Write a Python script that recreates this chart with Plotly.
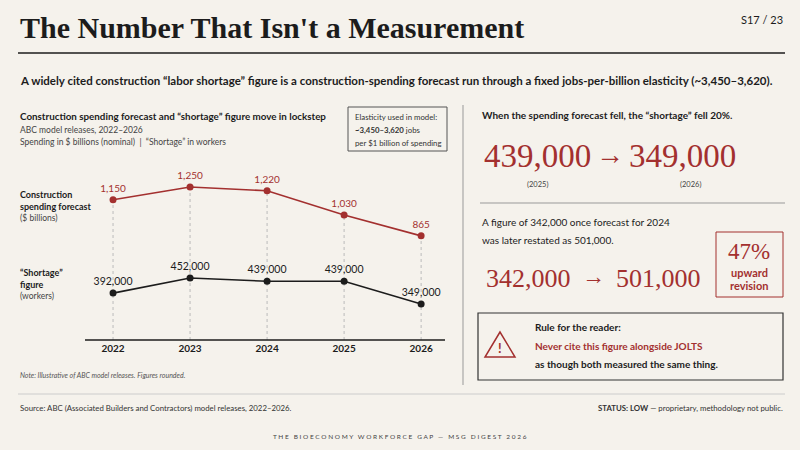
import plotly.graph_objects as go

years = [2022, 2023, 2024, 2025, 2026]
spending = [1150, 1250, 1220, 1030, 865]
spending_labels = ["1,150", "1,250", "1,220", "1,030", "865"]
shortage = [392000, 452000, 439000, 439000, 349000]
shortage_labels = ["392,000", "452,000", "439,000", "439,000", "349,000"]

RED = "#a3302f"
INK = "#1c1c1c"
BG = "#f5f2ec"
SERIF = "Liberation Serif"
SANS = "Lato"
W, H = 800, 450

def py(p):
    return 1 - p / H

def px(p):
    return p / W

fig = go.Figure()
fig.add_trace(go.Scatter(x=years, y=spending, mode="lines+markers+text", text=spending_labels,
                         textposition="top center", textfont=dict(color=RED, size=10, family=SANS),
                         line=dict(color=RED, width=1.6), marker=dict(color=RED, size=7),
                         yaxis="y", cliponaxis=False, showlegend=False))
fig.add_trace(go.Scatter(x=years, y=shortage, mode="lines+markers+text", text=shortage_labels,
                         textposition="top center", textfont=dict(color=INK, size=10.5, family=SANS),
                         line=dict(color=INK, width=1.6), marker=dict(color=INK, size=7),
                         yaxis="y2", cliponaxis=False, showlegend=False))

shapes = []
for yr, v in zip(years, spending):
    shapes.append(dict(type="line", xref="x", yref="paper", x0=yr, x1=yr, y0=py(340), y1=py(187 + (1250 - v) * 0.127),
                       line=dict(color="#bbbbbb", width=1, dash="dot"), layer="below"))
def hline(y, x0, x1, color=INK, w=1):
    shapes.append(dict(type="line", xref="paper", yref="paper", x0=px(x0), x1=px(x1), y0=py(y), y1=py(y),
                       line=dict(color=color, width=w)))
def rect(x0, y0, x1, y1, color, w=1):
    shapes.append(dict(type="rect", xref="paper", yref="paper", x0=px(x0), x1=px(x1), y0=py(y0), y1=py(y1),
                       line=dict(color=color, width=w)))
hline(340, 85, 445, INK, 1.5)
hline(53, 18, 785, INK, 1.5)
hline(203, 480, 785, "#999999", 1)
hline(394, 18, 785, "#cccccc", 1)
shapes.append(dict(type="line", xref="paper", yref="paper", x0=px(463), x1=px(463), y0=py(105), y1=py(385),
                   line=dict(color="#999999", width=1)))
rect(348, 107, 447, 151, "#555555", 1)
rect(716, 232, 783, 297, RED, 1)
rect(478, 313, 783, 380, "#333333", 1.2)
shapes.append(dict(type="path", xref="paper", yref="paper",
                   path=f"M {px(500)} {py(332)} L {px(485)} {py(357)} L {px(515)} {py(357)} Z",
                   line=dict(color=RED, width=1.5)))

anns = []
def t(x, y, s, size=10, color=INK, family=SANS, xa="left", bold=False, italic=False):
    if bold: s = f"<b>{s}</b>"
    if italic: s = f"<i>{s}</i>"
    anns.append(dict(x=px(x), y=py(y), xref="paper", yref="paper", text=s, showarrow=False,
                     xanchor=xa, yanchor="middle", font=dict(size=size, color=color, family=family), align=xa))

t(18, 27, "The Number That Isn't a Measurement", 30, INK, SERIF, bold=True)
t(785, 19, "S17 / 23", 11, INK, xa="right")
t(18, 80, "A widely cited construction “labor shortage” figure is a construction-spending forecast run through a fixed jobs-per-billion elasticity (~3,450–3,620).", 11.5, INK, bold=True)
t(18, 116, "Construction spending forecast and “shortage” figure move in lockstep", 9.8, INK, bold=True)
t(18, 130, "ABC model releases, 2022–2026", 8.5, "#444")
t(18, 142, "Spending in $ billions (nominal)  |  “Shortage” in workers", 8.5, "#444")
t(353, 117, "Elasticity used in model:", 7.8, "#333")
t(353, 130, "<b>~3,450–3,620</b> jobs", 7.8, "#333")
t(353, 143, "per $1 billion of spending", 7.8, "#333")
t(18, 194, "Construction", 9, INK, bold=True)
t(18, 206, "spending forecast", 9, INK, bold=True)
t(18, 218, "($ billions)", 8.5, "#444")
t(18, 272, "“Shortage”", 9, INK, bold=True)
t(18, 284, "figure", 9, INK, bold=True)
t(18, 296, "(workers)", 8.5, "#444")
t(18, 375, "Note: Illustrative of ABC model releases. Figures rounded.", 7, "#555", italic=True)

t(480, 115, "When the spending forecast fell, the “shortage” fell 20%.", 10, INK, bold=True)
t(537, 156, "439,000", 33, RED, SERIF, "center")
t(610, 154, "→", 28, RED, SERIF, "center")
t(682, 156, "349,000", 33, RED, SERIF, "center")
t(537, 184, "(2025)", 7.5, "#444", xa="center")
t(690, 184, "(2026)", 7.5, "#444", xa="center")
t(480, 222, "A figure of 342,000 once forecast for 2024", 10, INK)
t(480, 240, "was later restated as 501,000.", 10, INK)
t(528, 278, "342,000", 26, RED, SERIF, "center")
t(593, 276, "→", 23, RED, SERIF, "center")
t(658, 278, "501,000", 26, RED, SERIF, "center")
t(749, 251, "47%", 23, RED, SERIF, "center")
t(749, 272, "upward", 11, RED, bold=True, xa="center")
t(749, 285, "revision", 11, RED, bold=True, xa="center")
t(500, 348, "!", 13, RED, bold=True, xa="center")
t(533, 327, "Rule for the reader:", 10, INK, bold=True)
t(533, 346, "Never cite this figure alongside JOLTS", 10, RED, bold=True)
t(533, 364, "as though both measured the same thing.", 10, INK, bold=True)

t(18, 408, "Source: ABC (Associated Builders and Contractors) model releases, 2022–2026.", 7.8, "#333")
t(785, 408, "<b>STATUS: LOW</b> — proprietary, methodology not public.", 7.8, "#333", xa="right")
t(400, 436, "T H E   B I O E C O N O M Y   W O R K F O R C E   G A P   —   M S G   D I G E S T   2 0 2 6", 6.5, "#444", xa="center")

fig.update_layout(
    width=W, height=H, margin=dict(l=0, r=0, t=0, b=0),
    paper_bgcolor=BG, plot_bgcolor="rgba(0,0,0,0)",
    xaxis=dict(domain=[px(85), px(445)], range=[2021.636, 2026.31], tickvals=years,
               ticktext=[f"<b>{y}</b>" for y in years], showgrid=False, zeroline=False,
               showline=False, ticks="", anchor="free", position=py(341),
               tickfont=dict(size=10, color=INK, family=SANS)),
    yaxis=dict(domain=[py(245), py(180)], range=[793, 1305], visible=False),
    yaxis2=dict(domain=[py(310), py(270)], range=[325000, 483700], visible=False),
    shapes=shapes, annotations=anns,
)
fig.write_html("out.html", config={"displayModeBar": False},
               post_script="document.body.style.margin='0';document.body.style.background='%s';" % BG)
